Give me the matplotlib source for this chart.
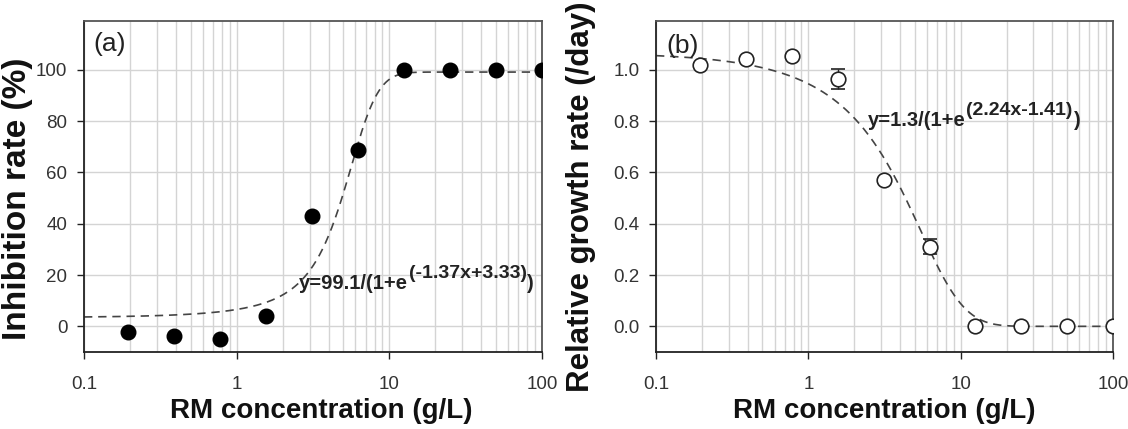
import numpy as np
import matplotlib
matplotlib.use("Agg")
import matplotlib.pyplot as plt
from matplotlib.ticker import FixedLocator, NullFormatter, LogLocator

plt.rcParams['font.family'] = ['Liberation Sans', 'DejaVu Sans']

# ---------------- data ----------------
conc = [0.195, 0.39, 0.78, 1.5625, 3.125, 6.25, 12.5, 25, 50, 100]
inhibition = [-2.2, -3.8, -5.1, 3.9, 43, 68.8, 100, 100, 100, 100]
growth = [1.02, 1.042, 1.052, 0.964, 0.57, 0.31, 0.0, 0.0, 0.0, 0.0]
growth_err = [0.008, 0.008, 0.01, 0.038, 0.01, 0.03, 0.0, 0.0, 0.0, 0.0]

# fitted logistic curves y = L / (1 + exp(k*x + c)) as drawn
fit_a = (99.1, -0.685, 3.33)
fit_b = (1.5, 0.367, -0.90)

xticks = [0.1, 1, 10, 100]
xticklabels = ['0.1', '1', '10', '100']
yticks_a = [0, 20, 40, 60, 80, 100]
yticks_b = [0.0, 0.2, 0.4, 0.6, 0.8, 1.0]
yticklabels_b = ['0.0', '0.2', '0.4', '0.6', '0.8', '1.0']

eq_a = ("y=99.1/(1+e", "(-1.37x+3.33)", ")")
eq_b = ("y=1.3/(1+e", "(2.24x-1.41)", ")")

# ---------------- figure ----------------
W, H = 1128, 429
fig = plt.figure(figsize=(W / 100, H / 100), dpi=100)

def px_axes(x0, x1, y0, y1):
    return fig.add_axes([x0 / W, 1 - y1 / H, (x1 - x0) / W, (y1 - y0) / H])

axA = px_axes(84, 542, 21, 352)
axB = px_axes(656, 1113, 21, 352)

tick_color = '#333333'
grid_color = '#d4d4d4'

def style(ax, yticks, ylabels, ylim):
    ax.set_xscale('log')
    ax.set_xlim(0.1, 100)
    ax.set_ylim(*ylim)
    ax.xaxis.set_major_locator(FixedLocator(xticks))
    ax.set_xticklabels(xticklabels)
    ax.xaxis.set_minor_locator(LogLocator(base=10, subs=np.arange(2, 10)))
    ax.xaxis.set_minor_formatter(NullFormatter())
    ax.set_yticks(yticks)
    ax.set_yticklabels(ylabels)
    ax.grid(True, which='major', axis='both', color=grid_color, lw=1.0)
    ax.grid(True, which='minor', axis='x', color=grid_color, lw=1.0)
    ax.set_axisbelow(True)
    ax.tick_params(axis='x', which='major', direction='out', length=5, width=1,
                   pad=12, labelsize=13.5, labelcolor=tick_color, color='#222222')
    ax.tick_params(axis='x', which='minor', length=0)
    ax.tick_params(axis='y', which='major', direction='out', length=5, width=1,
                   pad=7, labelsize=13.5, labelcolor=tick_color, color='#222222')
    for s in ['left', 'bottom']:
        ax.spines[s].set_color('#222222')
        ax.spines[s].set_linewidth(1.3)
    for s in ['top', 'right']:
        ax.spines[s].set_color('#555555')
        ax.spines[s].set_linewidth(1.3)

style(axA, yticks_a, [str(v) for v in yticks_a], (-10, 119))
style(axB, yticks_b, yticklabels_b, (-0.1, 1.19))

xs = np.logspace(-1, 2, 600)

def logistic(x, p):
    L, k, c = p
    return L / (1 + np.exp(k * x + c))

dash_kw = dict(color='#444444', lw=1.2, dashes=(5, 3.5), zorder=2)
axA.plot(xs, logistic(xs, fit_a), **dash_kw)
axA.plot(conc, inhibition, 'o', color='black', ms=10.5, zorder=3)

axB.plot(xs, logistic(xs, fit_b), **dash_kw)
axB.errorbar(conc, growth, yerr=growth_err, fmt='o', ms=10.5, mfc='white',
             mec='#222222', mew=1.2, ecolor='#222222', elinewidth=1.0,
             capsize=5, capthick=1.0, zorder=3)

# panel letters
axA.text(0.02, 0.93, '(a)', transform=axA.transAxes, fontsize=19,
         va='center', ha='left', color='#222222')
axB.text(0.022, 0.925, '(b)', transform=axB.transAxes, fontsize=19,
         va='center', ha='left', color='#222222')

# equations
def equation(ax, x_frac, y_frac, parts, size=14.5):
    t1 = ax.text(x_frac, y_frac, parts[0], transform=ax.transAxes,
                 fontsize=size, fontweight='bold', va='baseline', ha='left',
                 color='#222222')
    t2 = ax.annotate(parts[1], xy=(1, 0), xycoords=t1, xytext=(0.5, 10.5),
                     textcoords='offset points', fontsize=size - 0.5,
                     fontweight='bold', va='baseline', ha='left', color='#222222')
    ax.annotate(parts[2], xy=(1, 0), xycoords=t2, xytext=(0.5, -4.5),
                textcoords='offset points', fontsize=size, fontweight='bold',
                va='baseline', ha='left', color='#222222')

equation(axA, (299 - 84) / 458, (352 - 289) / 331, eq_a)
equation(axB, (868 - 656) / 457, (352 - 126) / 331, eq_b)

# axis labels
lab_kw = dict(fontweight='bold', color='#111111')
fig.text(321 / W, 1 - 418 / H, 'RM concentration (g/L)', ha='center',
         va='baseline', fontsize=20, **lab_kw)
fig.text(884 / W, 1 - 418 / H, 'RM concentration (g/L)', ha='center',
         va='baseline', fontsize=20, **lab_kw)
fig.text(18 / W, 1 - 199 / H, 'Inhibition rate (%)', rotation=90,
         ha='center', va='center', fontsize=24, **lab_kw)
fig.text(581 / W, 1 - 197 / H, 'Relative growth rate (/day)', rotation=90,
         ha='center', va='center', fontsize=22.5, **lab_kw)

fig.savefig('out.png', dpi=100)
